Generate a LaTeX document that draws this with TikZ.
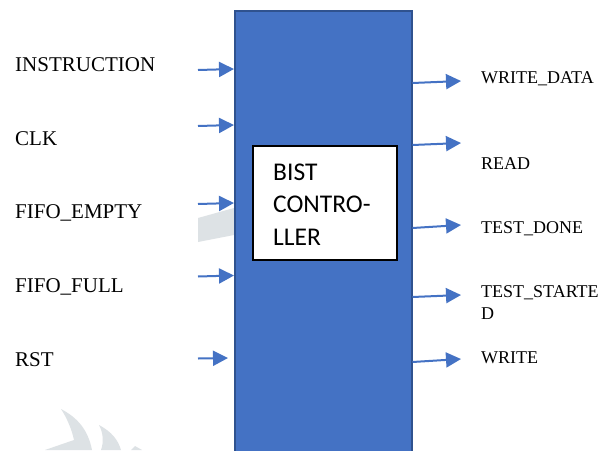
\documentclass[tikz,border=0pt]{standalone}
\usepackage{fontspec}
\setmainfont{Liberation Serif}
\newfontfamily\calib{Carlito}
\usetikzlibrary{arrows.meta,calc}
\definecolor{blockblue}{HTML}{4472C4}
\definecolor{blockedge}{HTML}{2F528F}
\definecolor{wmark}{HTML}{DDE2E5}
\tikzset{
  sig/.style={draw=blockblue, line width=2pt, -{Triangle[length=15pt,width=15pt]}},
  inlbl/.style={anchor=base west, inner sep=0pt, font=\fontsize{21}{25}\selectfont},
  outlbl/.style={anchor=base west, inner sep=0pt, align=left, font=\fontsize{18}{22}\selectfont},
}
\begin{document}
\begin{tikzpicture}[x=1pt, y=-1pt]
\useasboundingbox (0,0) rectangle (613,450);
\fill[white] (0,0) rectangle (613,450);

% faint background marks
\fill[wmark] (198,218) -- (234,208) -- (234,235) -- (198,242) -- cycle;
\fill[wmark] (61,409) .. controls (78,418) and (88,430) .. (92,450) -- (45,450)
  -- (74,440) .. controls (72,430) and (67,418) .. cycle;
\fill[wmark] (99,425) .. controls (112,432) and (118,440) .. (121,450) -- (101,450)
  .. controls (104,442) and (103,432) .. cycle;
\fill[wmark] (135,446) -- (142,450) -- (131,450) -- cycle;

% main block
\node[draw=blockedge, fill=blockblue, line width=1.5pt, minimum width=177pt,
      minimum height=460pt, inner sep=0pt, anchor=north west] (blk) at (234,10) {};
\node[draw=black, fill=white, line width=1.5pt, minimum width=144pt,
      minimum height=114pt, inner sep=0pt, anchor=north west] (ctl) at (252,145) {};
% multi-line text: the base anchor sits on the last line
\node[anchor=base west, inner sep=0pt, align=left,
      font=\calib\fontsize{25.5}{32.5}\selectfont] (ctltxt) at (273,245)
      {BIST\\CONTRO-\\LLER};

% input labels
\node[inlbl] (instr) at (15,71) {INSTRUCTION};
\node[inlbl] (clk)   at (15,145) {CLK};
\node[inlbl] (fe)    at (15,218) {FIFO\_EMPTY};
\node[inlbl] (ff)    at (15,292.5) {FIFO\_FULL};
\node[inlbl] (rst)   at (15,366.5) {RST};

% input arrow tails
\coordinate (i1) at (198,70);
\coordinate (i2) at (198,126);
\coordinate (i3) at (198,204);
\coordinate (i4) at (198,276.5);
\coordinate (i5) at (198,358.5);
\coordinate (i5t) at (228,358);

\draw[sig] (i1) -- ($(blk.west |- i1)+(0,-1)$);
\draw[sig] (i2) -- ($(blk.west |- i2)+(0,-1)$);
\draw[sig] (i3) -- ($(blk.west |- i3)+(0,-1)$);
\draw[sig] (i4) -- ($(blk.west |- i4)+(0,-1)$);
\draw[sig] (i5) -- (i5t);

% output labels
\node[outlbl] (wd)  at (481,83)  {WRITE\_DATA};
\node[outlbl] (rd)  at (481,169) {READ};
\node[outlbl] (td)  at (481,233) {TEST\_DONE};
\node[outlbl] (ts)  at (481,319) {TEST\_STARTE\\D};
\node[outlbl] (wr)  at (481,363) {WRITE};

% output arrow heads
\coordinate (o1) at (461,81);
\coordinate (o2) at (461,143);
\coordinate (o3) at (461,225);
\coordinate (o4) at (461,295);
\coordinate (o5) at (461,359);

\draw[sig] ($(blk.east |- o1)+(0,2)$) -- (o1);
\draw[sig] ($(blk.east |- o2)+(0,2)$) -- (o2);
\draw[sig] ($(blk.east |- o3)+(0,3)$) -- (o3);
\draw[sig] ($(blk.east |- o4)+(0,2)$) -- (o4);
\draw[sig] ($(blk.east |- o5)+(0,3)$) -- (o5);
\end{tikzpicture}
\end{document}
